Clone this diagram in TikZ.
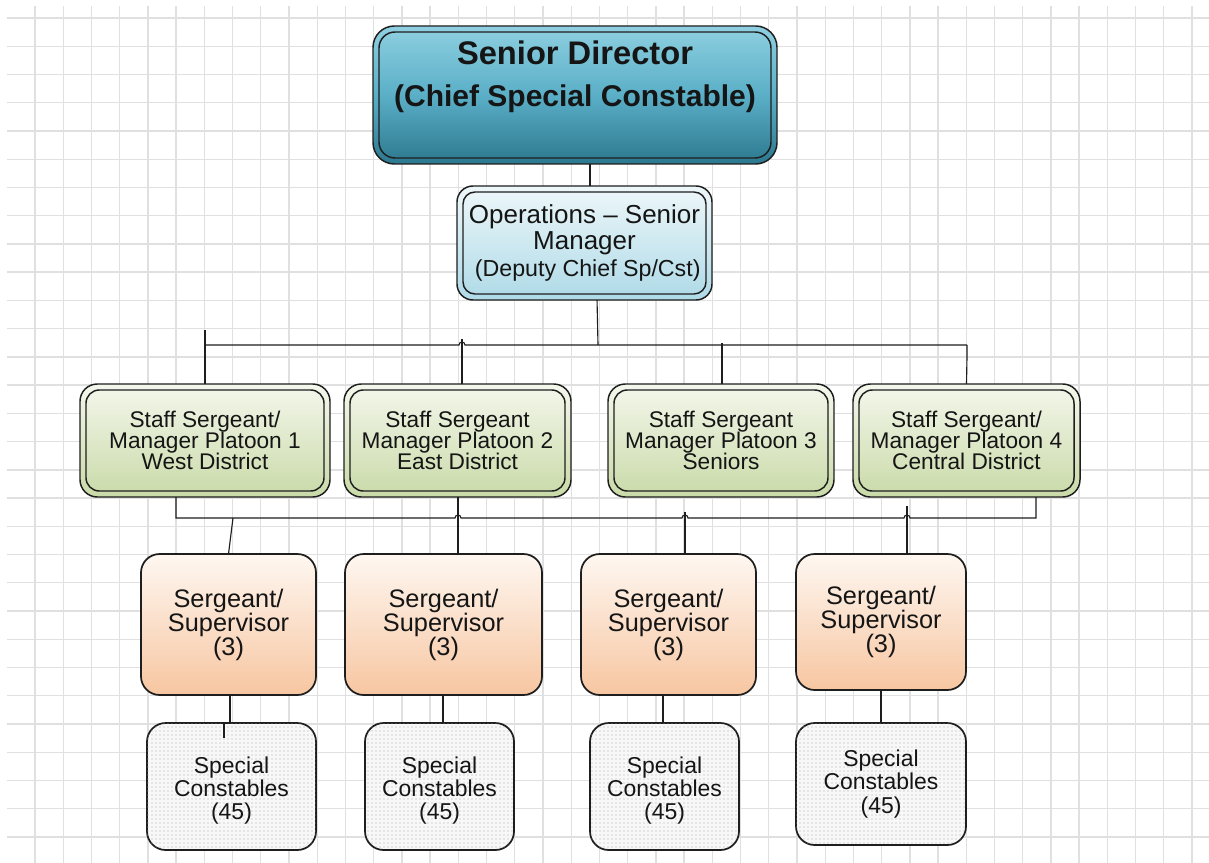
\documentclass[tikz,border=0pt]{standalone}
\usepackage{fontspec}
\setmainfont{Liberation Sans}
\usetikzlibrary{patterns,calc}
\definecolor{gridc}{HTML}{E0E0E0}
\definecolor{linec}{HTML}{1E1E1E}
\definecolor{txt}{HTML}{151515}
\definecolor{sdT}{HTML}{8FD0E1}
\definecolor{sdM}{HTML}{5AAFC7}
\definecolor{sdB}{HTML}{2C788E}
\definecolor{opT}{HTML}{EEF7FA}
\definecolor{opB}{HTML}{AEDAE7}
\definecolor{stT}{HTML}{F4F7EC}
\definecolor{stB}{HTML}{C9DAA8}
\definecolor{sgT}{HTML}{FEF7F1}
\definecolor{sgB}{HTML}{F7C6A1}
\definecolor{csF}{HTML}{F8F8F8}
\newcommand{\toppad}{\rule{0pt}{18.5pt}}
\newcommand{\tightlines}{\lineskiplimit=-20pt\relax\lineskip=0pt\relax}
\begin{document}
\begin{tikzpicture}[x=0.75pt,y=-0.75pt,
  sz/.style 2 args={minimum width=#1*0.75pt, minimum height=#2*0.75pt},
  base/.style={inner sep=0pt, outer sep=0pt, align=center, text=txt},
  innerline/.style={path picture={\draw[line width=1.1pt, draw=linec, rounded corners=#1]
      ([shift={(4.5pt,4.5pt)}]path picture bounding box.south west) rectangle
      ([shift={(-4.5pt,-4.5pt)}]path picture bounding box.north east);}},
  sdbox/.style={base, rounded corners=16pt, draw=linec, line width=1.1pt,
      top color=sdT, bottom color=sdB, middle color=sdM, innerline=12pt},
  opbox/.style={base, rounded corners=12pt, draw=linec, line width=1.1pt,
      top color=opT, bottom color=opB, innerline=9pt,
      font=\fontsize{19.5}{19.5}\selectfont},
  stbox/.style={base, rounded corners=13pt, draw=linec, line width=1.1pt,
      top color=stT, bottom color=stB, innerline=10pt,
      font=\fontsize{17}{15.75}\selectfont\tightlines},
  sgbox/.style={base, rounded corners=14pt, draw=linec, line width=1.3pt,
      top color=sgT, bottom color=sgB,
      font=\fontsize{19}{18}\selectfont},
  csbox/.style={base, rounded corners=14pt, draw=linec, line width=1.3pt,
      fill=csF, postaction={pattern=dots, pattern color=gray!70},
      font=\fontsize{17.2}{17.6}\selectfont},
  conn/.style={draw=linec, line width=0.85pt}
]
\useasboundingbox (0,0) rectangle (1209,863);
\fill[white] (0,0) rectangle (1209,863);
% grid
\foreach \i in {0,...,41} \draw[gridc, line width=1pt] ({35+28.22*\i},6) -- ({35+28.22*\i},863);
\foreach \j in {0,...,29} \draw[gridc, line width=1pt] (7,{18+28.24*\j}) -- (1209,{18+28.24*\j});

% nodes
\node[sdbox, sz={404}{138}] (sd) at (575,95) {};
\node[base, font=\fontsize{24.5}{31.5}\selectfont\bfseries] (sdt) at (575,77)
  {Senior Director\\{\fontsize{22.5}{31.5}\selectfont (Chief Special Constable)}};

\node[opbox, sz={255}{114}] (ops) at (584.5,243)
  {Operations -- Senior\\Manager\\[1pt]{\fontsize{17.4}{19.5}\selectfont\ (Deputy Chief Sp/Cst)}};

\node[stbox, sz={250}{113}] (st1) at (205,440.5) {Staff Sergeant/\\Manager Platoon 1\\West District};
\node[stbox, sz={227}{113}] (st2) at (457.5,440.5) {Staff Sergeant\\Manager Platoon 2\\East District};
\node[stbox, sz={226}{113}] (st3) at (721,440.5) {Staff Sergeant\\Manager Platoon 3\\Seniors};
\node[stbox, sz={227}{113}] (st4) at (966.5,440.5) {Staff Sergeant/\\Manager Platoon 4\\Central District};

\node[sgbox, sz={175}{141}] (sg1) at (228.5,624.5) {Sergeant/\\Supervisor\\(3)};
\node[sgbox, sz={197}{141}] (sg2) at (443.5,624.5) {Sergeant/\\Supervisor\\(3)};
\node[sgbox, sz={175}{141}] (sg3) at (668.5,624.5) {Sergeant/\\Supervisor\\(3)};
\node[sgbox, sz={170}{136}] (sg4) at (881,622) {Sergeant/\\Supervisor\\(3)};

\node[csbox, sz={169}{127}] (cs1) at (231.5,786.5) {\toppad Special\\Constables\\(45)};
\node[csbox, sz={149}{127}] (cs2) at (439.5,786.5) {\toppad Special\\Constables\\(45)};
\node[csbox, sz={149}{127}] (cs3) at (664.5,786.5) {\toppad Special\\Constables\\(45)};
\node[csbox, sz={170}{122}] (cs4) at (881,784) {Special\\Constables\\(45)};

% connectors
\coordinate (c0) at ([xshift=11.25pt]sd.south);
\draw[conn] (c0) -- (c0 |- ops.north);
\coordinate (opsb) at (598,345);
\draw[conn] ([xshift=9.4pt]ops.south) -- (opsb);

\coordinate (tbL) at (205,345);
\coordinate (tbR) at (967,345);
\draw[conn] (tbL) -- (459,345) arc[start angle=180,end angle=360,radius=3] -- (tbR);
\draw[conn] (205,330) -- (st1.north);
\draw[conn] (462,339) -- (462,339 |- st2.north);
\draw[conn] (722,343) -- (722,343 |- st3.north);
\draw[conn] (tbR) -- (967,356) -- (st4.north);

\coordinate (bbL) at (176,518);
\coordinate (bbR) at (1036,518);
\draw[conn] (176,0 |- st1.south) -- (bbL) -- (455,518)
  arc[start angle=180,end angle=360,radius=3] -- (682,518)
  arc[start angle=180,end angle=360,radius=3] -- (904,518)
  arc[start angle=180,end angle=360,radius=3] -- (bbR) -- (1036,0 |- st4.south);

\draw[conn] (233,518) -- (sg1.north);
\draw[conn] (458,0 |- st2.south) -- (458,0 |- sg2.north);
\draw[conn] (685,512) -- (685,0 |- sg3.north);
\draw[conn] (907,506) -- (907,0 |- sg4.north) -- (sg4.north);

\draw[conn] (230,0 |- sg1.south) -- (230,0 |- cs1.north) -- ++(-6,0) -- ++(0,15);
\draw[conn] (443,0 |- sg2.south) -- (443,0 |- cs2.north);
\draw[conn] (663,0 |- sg3.south) -- (663,0 |- cs3.north);
\draw[conn] (sg4.south) -- (cs4.north);
\end{tikzpicture}
\end{document}
